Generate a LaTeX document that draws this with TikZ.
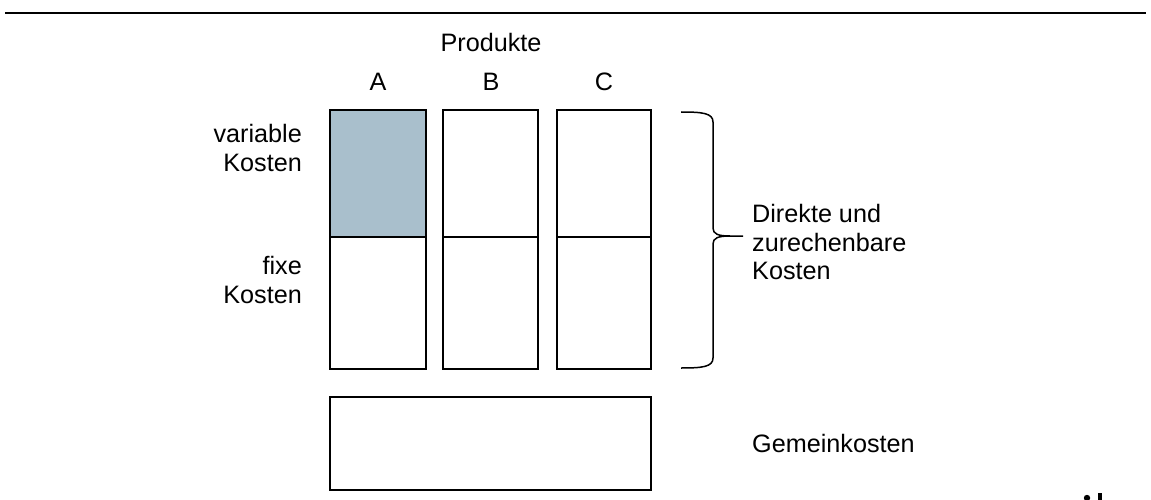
\documentclass[tikz,border=0pt]{standalone}
\usepackage{fontspec}
\setmainfont{Liberation Sans}
\definecolor{kostenblau}{RGB}{169,191,204}
\tikzset{
	kasten/.style={draw=black, line width=1.5pt},
	beschrift/.style={inner sep=0pt, font=\fontsize{25.2}{28.5}\selectfont}
}

\begin{document}
\begin{tikzpicture}[x=1pt, y=-1pt]
		%%%%% START %%%%%
		\useasboundingbox (0, 0) rectangle (1151, 500);
		
		\draw[line width=2pt] (5, 13) -- (1146, 13);
		
		\node[beschrift] (produkte) at (491, 42) {Produkte};
		\node[beschrift] (pa) at (378, 82) {A};
		\node[beschrift] (pb) at (491, 82) {B};
		\node[beschrift] (pc) at (604, 82) {C};
		
		\draw[kasten, fill=kostenblau] (330, 110) rectangle (426, 237);
		\draw[kasten] (330, 237) rectangle (426, 369);
		\draw[kasten] (443, 110) rectangle (538, 237);
		\draw[kasten] (443, 237) rectangle (538, 369);
		\draw[kasten] (557, 110) rectangle (651, 237);
		\draw[kasten] (557, 237) rectangle (651, 369);
		
		\draw[kasten] (330, 397) rectangle (651, 490);
		
		\node[beschrift, anchor=east, align=right] (variabel) at (302, 148) {variable\\Kosten};
		\node[beschrift, anchor=east, align=right] (fix) at (302, 280) {fixe\\Kosten};
		
		% geschweifte Klammer
		\draw[line width=1.5pt, line join=round] (681, 112) .. controls (702, 112) and (713, 113) .. (713, 122)
			-- (713, 228) .. controls (713, 234) and (718, 236) .. (730, 236) -- (743, 236);
		\draw[line width=1.5pt, line join=round] (730, 236) .. controls (718, 236) and (713, 238) .. (713, 244)
			-- (713, 358) .. controls (713, 367) and (702, 368) .. (681, 368);
		
		\node[beschrift, anchor=west, align=left] (direkt) at (752, 242) {Direkte und\\zurechenbare\\Kosten};
		\node[beschrift, anchor=west] (gemein) at (752, 443) {Gemeinkosten};
		
		\fill (1087, 498) circle (3.2);
		\fill (1098, 493) rectangle (1102, 500);
		%%%%% END %%%%%
	\end{tikzpicture}
\end{document}
